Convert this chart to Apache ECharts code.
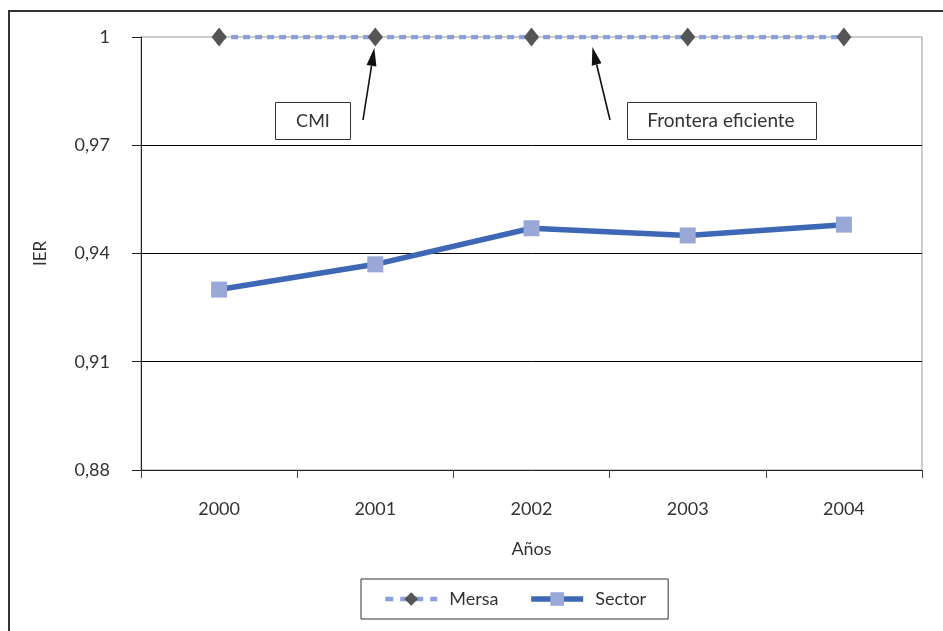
<!DOCTYPE html>
<html>
<head>
<meta charset="utf-8">
<script src="https://cdn.jsdelivr.net/npm/echarts@6/dist/echarts.min.js"></script>
<style>
html,body{margin:0;padding:0;background:#fff;}
#c{width:943px;height:631px;}
</style>
</head>
<body>
<div id="c"></div>
<script>
var years = ['2000', '2001', '2002', '2003', '2004'];
var mersa = [1, 1, 1, 1, 1];
var sector = [0.930, 0.937, 0.947, 0.945, 0.948];
var yTicks = [0.88, 0.91, 0.94, 0.97, 1];
var yTickLabels = ['0,88', '0,91', '0,94', '0,97', '1'];
var annotations = ['CMI', 'Frontera eficiente'];

var FONT = 'Lato';
var chart = echarts.init(document.getElementById('c'), null, {renderer: 'canvas'});

function labelFor(v) {
  for (var i = 0; i < yTicks.length; i++) {
    if (Math.abs(yTicks[i] - v) < 1e-6) return yTickLabels[i];
  }
  return '';
}

var MERSA_LINE = {color: '#8c9fd9', width: 4.5, type: [7, 5]};
var SECTOR_LINE = {color: '#3e68b5', width: 5.5};

chart.setOption({
  animation: false,
  backgroundColor: '#fff',
  textStyle: {fontFamily: FONT},
  grid: {left: 141, right: 21, top: 37, bottom: 161, show: true, borderColor: '#999', borderWidth: 1, containLabel: false},
  legend: {
    left: 361, top: 579,
    padding: [11, 22, 11, 22],
    borderColor: '#333', borderWidth: 1,
    itemWidth: 52, itemHeight: 17, itemGap: 30,
    textStyle: {fontFamily: FONT, fontSize: 18, color: '#333', padding: [0, 0, 0, 7]},
    data: [
      {name: 'Mersa', lineStyle: {width: 4.5, type: [8, 7], color: '#8c9fd9'}},
      {name: 'Sector', lineStyle: {width: 5.5, color: '#3e68b5'}}
    ]
  },
  xAxis: {
    type: 'category',
    data: years,
    boundaryGap: true,
    name: 'Años',
    nameLocation: 'middle',
    nameGap: 70,
    nameTextStyle: {fontFamily: FONT, fontSize: 18, color: '#333'},
    axisLine: {lineStyle: {color: '#222', width: 1}},
    axisTick: {show: true, length: 8, alignWithLabel: false, lineStyle: {color: '#444'}},
    axisLabel: {fontFamily: FONT, fontSize: 18, color: '#333', margin: 30},
    splitLine: {show: false}
  },
  yAxis: {
    type: 'value',
    min: 0.88, max: 1, interval: 0.03,
    name: 'IER',
    nameLocation: 'middle',
    nameRotate: 90,
    nameGap: 92,
    nameTextStyle: {fontFamily: FONT, fontSize: 17, color: '#333'},
    axisLine: {show: true, lineStyle: {color: '#222', width: 1}},
    axisTick: {show: true, length: 9, lineStyle: {color: '#222'}},
    axisLabel: {fontFamily: FONT, fontSize: 18, color: '#333', margin: 31, formatter: labelFor},
    splitLine: {show: true, showMinLine: false, showMaxLine: false, lineStyle: {color: '#000', width: 1}}
  },
  series: [
    {
      name: 'Mersa',
      type: 'line',
      data: mersa,
      symbol: 'diamond',
      symbolSize: [15, 19],
      itemStyle: {color: '#555555'},
      lineStyle: MERSA_LINE,
      z: 3
    },
    {
      name: 'Sector',
      type: 'line',
      data: sector,
      symbol: 'rect',
      symbolSize: 16,
      itemStyle: {color: '#9aa8d8'},
      lineStyle: SECTOR_LINE,
      z: 4
    }
  ]
});

// annotations: boxes with arrows pointing at the efficient frontier
var tip1 = chart.convertToPixel({gridIndex: 0}, [1, 1]);
var p2 = chart.convertToPixel({gridIndex: 0}, [2, 1]);
var p3 = chart.convertToPixel({gridIndex: 0}, [3, 1]);
var tip2 = [p2[0] + (p3[0] - p2[0]) * 0.39, p2[1]];

function arrow(x0, y0, x1, y1) {
  var dx = x1 - x0, dy = y1 - y0;
  var len = Math.sqrt(dx * dx + dy * dy);
  var ux = dx / len, uy = dy / len;
  var hl = 18, hw = 5;
  var bx = x1 - ux * hl, by = y1 - uy * hl;
  return [
    {type: 'line', shape: {x1: x0, y1: y0, x2: bx, y2: by}, style: {stroke: '#111', lineWidth: 1.6}, z: 20},
    {type: 'polygon', shape: {points: [[x1, y1], [bx - uy * hw, by + ux * hw], [bx + uy * hw, by - ux * hw]]}, style: {fill: '#111'}, z: 20}
  ];
}

var g = [
  {type: 'rect', shape: {x: 9, y: 11, width: 1000, height: 700}, style: {fill: 'none', stroke: '#333', lineWidth: 2}, z: 30, silent: true},
  {type: 'rect', shape: {x: 275.5, y: 102.5, width: 75, height: 37}, style: {fill: '#fff', stroke: '#333', lineWidth: 1}, z: 20},
  {type: 'text', x: 313, y: 121, style: {text: annotations[0], fontFamily: FONT, fontSize: 18, fill: '#333', align: 'center', verticalAlign: 'middle'}, z: 21},
  {type: 'rect', shape: {x: 627.5, y: 102.5, width: 189, height: 37}, style: {fill: '#fff', stroke: '#333', lineWidth: 1}, z: 20},
  {type: 'text', x: 721, y: 121, style: {text: annotations[1], fontFamily: FONT, fontSize: 19, fill: '#333', align: 'center', verticalAlign: 'middle'}, z: 21}
];
g = g.concat(arrow(363, 120, tip1[0] - 1, tip1[1] + 11));
g = g.concat(arrow(610, 120, tip2[0], tip2[1] + 10));
chart.setOption({graphic: g});
</script>
</body>
</html>
